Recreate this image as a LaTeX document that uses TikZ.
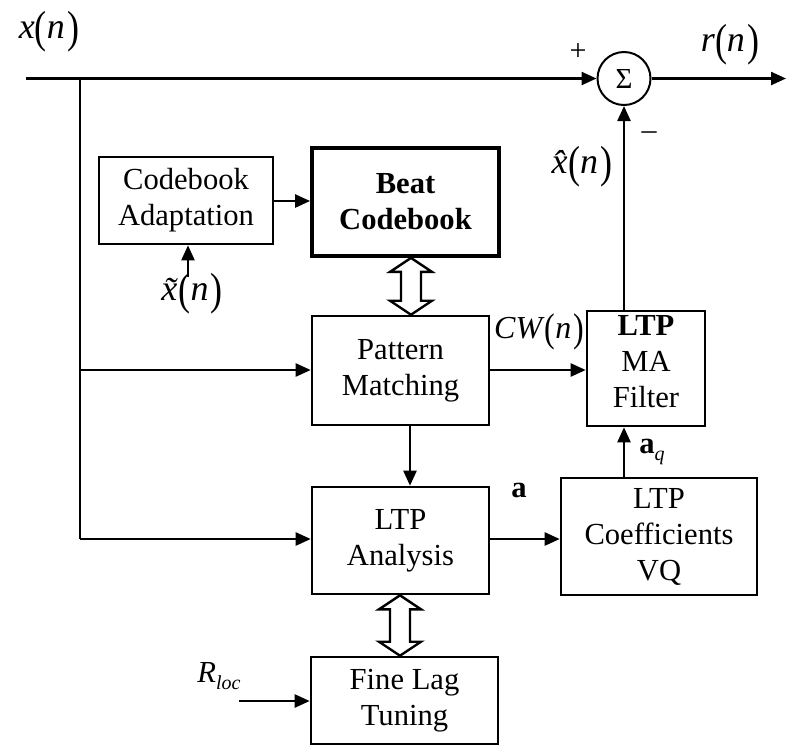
\documentclass[tikz,border=0pt]{standalone}
\usepackage{fontspec}
\setmainfont{Liberation Serif}
\usepackage{graphicx}
\usetikzlibrary{arrows.meta,calc}
\newcommand{\lp}{\raisebox{-0.11em}{\scalebox{1}[1.25]{(}}}
\newcommand{\rp}{\raisebox{-0.11em}{\scalebox{1}[1.25]{)}}}
\newcommand{\fn}[1]{#1\lp\textit{n}\kern0.06em\rp}
\newcommand{\dblarr}[3]{\draw[dblarrow] let \p1=(#2.south), \p2=(#3.north), \p3=(#1,0) in
 (\x3,\y1) -- (\x3+10.5pt,\y1-7pt) -- (\x3+5pt,\y1-7pt) -- (\x3+5pt,\y2+7pt) -- (\x3+10.5pt,\y2+7pt)
 -- (\x3,\y2) -- (\x3-10.5pt,\y2+7pt) -- (\x3-5pt,\y2+7pt) -- (\x3-5pt,\y1-7pt) -- (\x3-10.5pt,\y1-7pt) -- cycle;}
\begin{document}
\begin{tikzpicture}[x=0.5pt,y=-0.5pt,
  every node/.style={font=\fontsize{15.3}{18}\selectfont},
  blk/.style={draw, line width=1.3pt, align=center, inner sep=0pt},
  thick box/.style={blk, line width=1.9pt},
  conn/.style={line width=1.2pt, -{Triangle[length=7.5pt,width=6.5pt]}},
  wire/.style={line width=1.2pt},
  dblarrow/.style={line width=1.2pt, fill=white, line join=miter},
  lbl/.style={inner sep=0pt},
  biglbl/.style={lbl, font=\fontsize{18}{20}\selectfont},
  midlbl/.style={lbl, font=\fontsize{16}{18}\selectfont}]
\useasboundingbox (0,0) rectangle (786,746);
% blocks
\node[blk, minimum width=87pt, minimum height=43.5pt] (ca) at (186,200.5) {Codebook\\Adaptation};
\node[thick box, minimum width=93.5pt, minimum height=54pt] (bc) at (405.5,202) {\textbf{Beat}\\\textbf{Codebook}};
\node[blk, minimum width=88.5pt, minimum height=54.5pt] (pm) at (400.5,370.5) {Pattern\\Matching};
\node[blk, minimum width=59pt, minimum height=57.5pt] (ma) at (646,368.5) {};
\node[lbl, align=center] (matext) at (646,362) {\textbf{LTP}\\MA\\Filter};
\node[blk, minimum width=88.5pt, minimum height=53.5pt] (la) at (400.5,540.5) {LTP\\Analysis};
\node[blk, minimum width=98pt, minimum height=58.5pt] (vq) at (659,536.5) {LTP\\Coefficients\\VQ};
\node[blk, minimum width=93.5pt, minimum height=43.5pt] (fl) at (404.5,700.5) {Fine Lag\\Tuning};
\node[draw, circle, line width=1pt, minimum size=26.5pt, inner sep=0pt] (sum) at (624,78.5) {\fontsize{14.5}{14.5}\selectfont Σ};
% coordinates
\coordinate (in) at (26,78.5);
\coordinate (out) at (786,78.5);
\coordinate (br) at (80,78.5);
\coordinate (brpm) at (80,370);
\coordinate (brla) at (80,539);
\coordinate (xt) at (188,277);
\coordinate (rl) at (239,701);
% connectors
\draw[conn] (in) -- (sum.west);
\draw[conn] (sum.east) -- (out);
\draw[wire] (br) -- (brla);
\draw[conn] (brpm) -- (brpm -| pm.west);
\draw[conn] (brla) -- (brla -| la.west);
\draw[conn] (ca.east |- 0,201) -- (bc.west |- 0,201);
\draw[conn] (xt) -- (xt |- ca.south);
\draw[conn] (pm.east |- 0,370) -- (ma.west |- 0,370);
\draw[conn] (pm.south -| 410,0) -- (la.north -| 410,0);
\draw[conn] (la.east |- 0,539) -- (vq.west |- 0,539);
\draw[conn] (vq.north -| 624,0) -- (ma.south -| 624,0);
\draw[conn] (ma.north -| 624,0) -- (sum.south);
\draw[conn] (rl) -- (rl -| fl.west);
\dblarr{411}{bc}{pm}
\dblarr{400}{la}{fl}
% labels
\node[biglbl] (lx) at (49,32) {\fn{\textit{x}}};
\node[biglbl] (lr) at (730,45) {\fn{\textit{r}}};
\node[lbl] (lplus) at (578,52) {\fontsize{15}{15}\selectfont +};
\node[lbl] (lminus) at (649,136) {\fontsize{15}{15}\selectfont –};
\node[biglbl] (lxh) at (582,167) {\fn{\textit{x̂}\kern-0.36em}};
\node[biglbl] (lxt) at (192,294) {\fn{\textit{x̃}\kern-0.36em}};
\node[midlbl] (lcw) at (539,332) {\fn{\textit{CW}}};
\node[lbl] (la1) at (519,490) {\textbf{a}};
\node[lbl, anchor=west] (laq) at (639,452) {\textbf{a}\raisebox{-0.55ex}{\fontsize{10}{10}\selectfont\itshape q}};
\node[lbl] (lrl) at (219,676) {\textit{R}\raisebox{-0.55ex}{\fontsize{10}{10}\selectfont\itshape loc}};
\end{tikzpicture}
\end{document}
